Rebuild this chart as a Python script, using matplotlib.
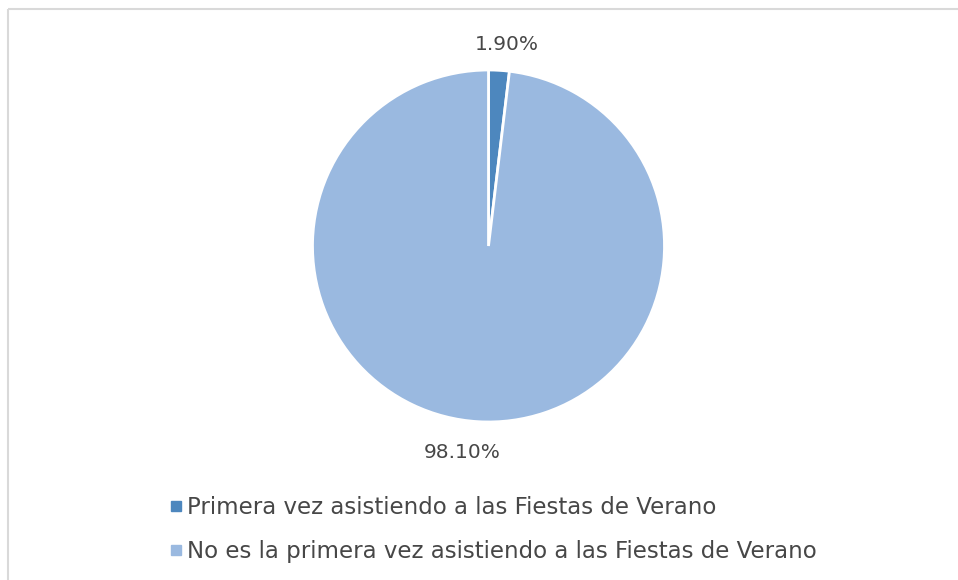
import matplotlib.pyplot as plt
from matplotlib.lines import Line2D

categories = ['Primera vez asistiendo a las Fiestas de Verano',
              'No es la primera vez asistiendo a las Fiestas de Verano']
values = [1.90, 98.10]
labels = ['1.90%', '98.10%']
colors = ['#4D87BE', '#9AB9E0']

plt.rcParams['font.family'] = ['DejaVu Sans']
text_color = '#474747'

fig = plt.figure(figsize=(9.58, 5.8), dpi=100)
ax = fig.add_axes([0, 0, 1, 1])
ax.set_xlim(0, 958)
ax.set_ylim(0, 580)
ax.axis('off')

# chart border (only top and left are visible in the crop)
ax.plot([8, 958], [571, 571], color='#D9D9D9', lw=1.5, solid_capstyle='butt')
ax.plot([8, 8], [0, 571], color='#D9D9D9', lw=1.5, solid_capstyle='butt')

ax.pie(values, colors=colors, startangle=90, counterclock=False,
       center=(488.5, 334), radius=176,
       wedgeprops=dict(edgecolor='white', linewidth=2))
ax.set_xlim(0, 958)
ax.set_ylim(0, 580)
ax.set_aspect('auto')

ax.text(507, 535, labels[0], ha='center', va='center', fontsize=14.5, color=text_color)
ax.text(462, 127, labels[1], ha='center', va='center', fontsize=14.5, color=text_color)

handles = [Line2D([], [], marker='s', linestyle='none', markersize=7,
                  markerfacecolor=c, markeredgecolor=c) for c in colors]
fig.legend(handles, categories, loc='upper left', bbox_to_anchor=(149 / 958, 1 - 475 / 580),
           frameon=False, fontsize=16.5, labelcolor=text_color,
           handlelength=0.55, handletextpad=0.2, labelspacing=0.92)

fig.savefig('out.png', dpi=100)
